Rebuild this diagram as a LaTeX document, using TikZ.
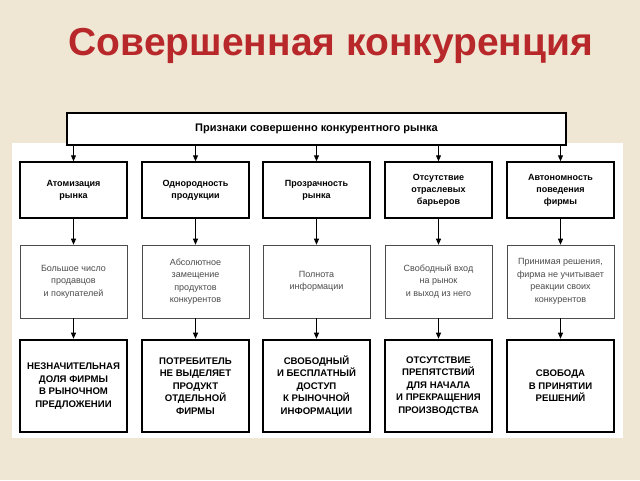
\documentclass[tikz,border=0pt]{standalone}
\usepackage{fontspec}
\setmainfont{Liberation Sans}
\usetikzlibrary{arrows.meta}
\definecolor{bg}{HTML}{EFE6D4}
\definecolor{ttl}{HTML}{B8282A}
\tikzset{
 box/.style={draw=black,fill=white,minimum width=107pt,align=center,inner sep=1pt},
 r1/.style={box,line width=1.4pt,minimum height=56pt,font=\bfseries\fontsize{9}{12}\selectfont},
 r2/.style={box,draw=black!70,line width=0.6pt,minimum height=73pt,text=black!70,font=\fontsize{9}{12.5}\selectfont},
 r3/.style={box,line width=2.6pt,minimum height=92pt,font=\bfseries\fontsize{9.6}{12.5}\selectfont},
 arr/.style={-{Triangle[length=6pt,width=5pt]},line width=0.9pt}
}
\begin{document}
\begin{tikzpicture}[x=1pt,y=-1pt]
\useasboundingbox (0,0) rectangle (640,480);
\fill[bg] (0,0) rectangle (640,480);
\fill[white] (12,143) rectangle (623,438);
\node[text=ttl,font=\bfseries\fontsize{39}{42}\selectfont] (title) at (331,46) {Совершенная конкуренция};
\node[draw,line width=1.4pt,fill=white,minimum width=499pt,minimum height=32pt,font=\fontsize{11}{13}\selectfont\bfseries] (top) at (316.5,129) {Признаки совершенно конкурентного рынка};
\foreach \i/\x/\a/\b/\c in {
 1/73.5/{Атомизация\\рынка}/{Большое число\\продавцов\\и покупателей}/{НЕЗНАЧИТЕЛЬНАЯ\\ДОЛЯ ФИРМЫ\\В РЫНОЧНОМ\\ПРЕДЛОЖЕНИИ},
 2/195.5/{Однородность\\продукции}/{Абсолютное\\замещение\\продуктов\\конкурентов}/{ПОТРЕБИТЕЛЬ\\НЕ ВЫДЕЛЯЕТ\\ПРОДУКТ\\ОТДЕЛЬНОЙ\\ФИРМЫ},
 3/316.5/{Прозрачность\\рынка}/{Полнота\\информации}/{СВОБОДНЫЙ\\И БЕСПЛАТНЫЙ\\ДОСТУП\\К РЫНОЧНОЙ\\ИНФОРМАЦИИ},
 4/438.5/{Отсутствие\\отраслевых\\барьеров}/{Свободный вход\\на рынок\\и выход из него}/{ОТСУТСТВИЕ\\ПРЕПЯТСТВИЙ\\ДЛЯ НАЧАЛА\\И ПРЕКРАЩЕНИЯ\\ПРОИЗВОДСТВА},
 5/560.5/{Автономность\\поведения\\фирмы}/{Принимая решения,\\фирма не учитывает\\реакции своих\\конкурентов}/{СВОБОДА\\В ПРИНЯТИИ\\РЕШЕНИЙ}}{
 \node[r1] (a\i) at (\x,190) {\a};
 \node[r2] (b\i) at (\x,281.5) {\b};
 \node[r3] (c\i) at (\x,386) {\c};
 \draw[arr] (top.south -| a\i) -- (a\i);
 \draw[arr] (a\i) -- (b\i);
 \draw[arr] (b\i) -- (c\i);
}
\end{tikzpicture}
\end{document}
